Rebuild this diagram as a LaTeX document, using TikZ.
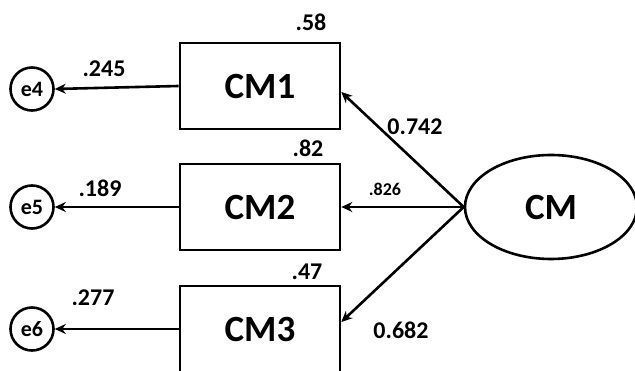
\documentclass[tikz,border=0pt]{standalone}
\usepackage{fontspec}
\setmainfont{Carlito}
\usetikzlibrary{arrows.meta,shapes.geometric}
\begin{document}
\begin{tikzpicture}[x=1pt,y=-1pt,
  every node/.style={font=\bfseries},
  obs/.style={draw,line width=2.6pt,minimum width=160pt,minimum height=86pt,inner sep=0pt,font=\fontsize{37}{40}\selectfont\bfseries},
  lat/.style={draw,ellipse,line width=2.6pt,minimum width=172pt,minimum height=104pt,inner sep=0pt,font=\fontsize{37}{40}\selectfont\bfseries},
  err/.style={draw,circle,line width=2.6pt,minimum size=43pt,inner sep=0pt,font=\fontsize{22}{24}\selectfont\bfseries},
  conn/.style={line width=2.6pt,-{Stealth[length=11pt,width=10pt]}},
  lbl/.style={font=\fontsize{24}{26}\selectfont\bfseries,inner sep=0pt}]
\useasboundingbox (0,0) rectangle (635,371);
\clip (0,0) rectangle (635,371);
\fill[white] (0,0) rectangle (635,371);
\node[obs] (cm1) at (260,86) {CM1};
\node[obs] (cm2) at (260,207) {CM2};
\node[obs] (cm3) at (260,329) {CM3};
\node[lat] (cm) at (551,207) {CM};
\node[err] (e4) at (32,89) {e4};
\node[err] (e5) at (32,207) {e5};
\node[err] (e6) at (32,329) {e6};
\draw[conn] (cm1.west) -- (e4.east);
\draw[conn] (cm2.west) -- (e5.east);
\draw[conn] (cm3.west) -- (e6.east);
\draw[conn] (cm.west) -- ([yshift=-6pt]cm1.east);
\draw[conn] (cm.west) -- (cm2.east);
\draw[conn] (cm.west) -- ([yshift=7pt]cm3.east);
\node[lbl] (l58) at (311,22) {.58};
\node[lbl] (l82) at (308,148) {.82};
\node[lbl] (l47) at (307,272) {.47};
\node[lbl] (l245) at (104,69) {.245};
\node[lbl] (l189) at (100,188) {.189};
\node[lbl] (l277) at (93,298) {.277};
\node[lbl] (l742) at (415,127) {0.742};
\node[lbl,font=\fontsize{18}{20}\selectfont\bfseries] (l826) at (385,189) {.826};
\node[lbl] (l682) at (401,330) {0.682};
\end{tikzpicture}
\end{document}
